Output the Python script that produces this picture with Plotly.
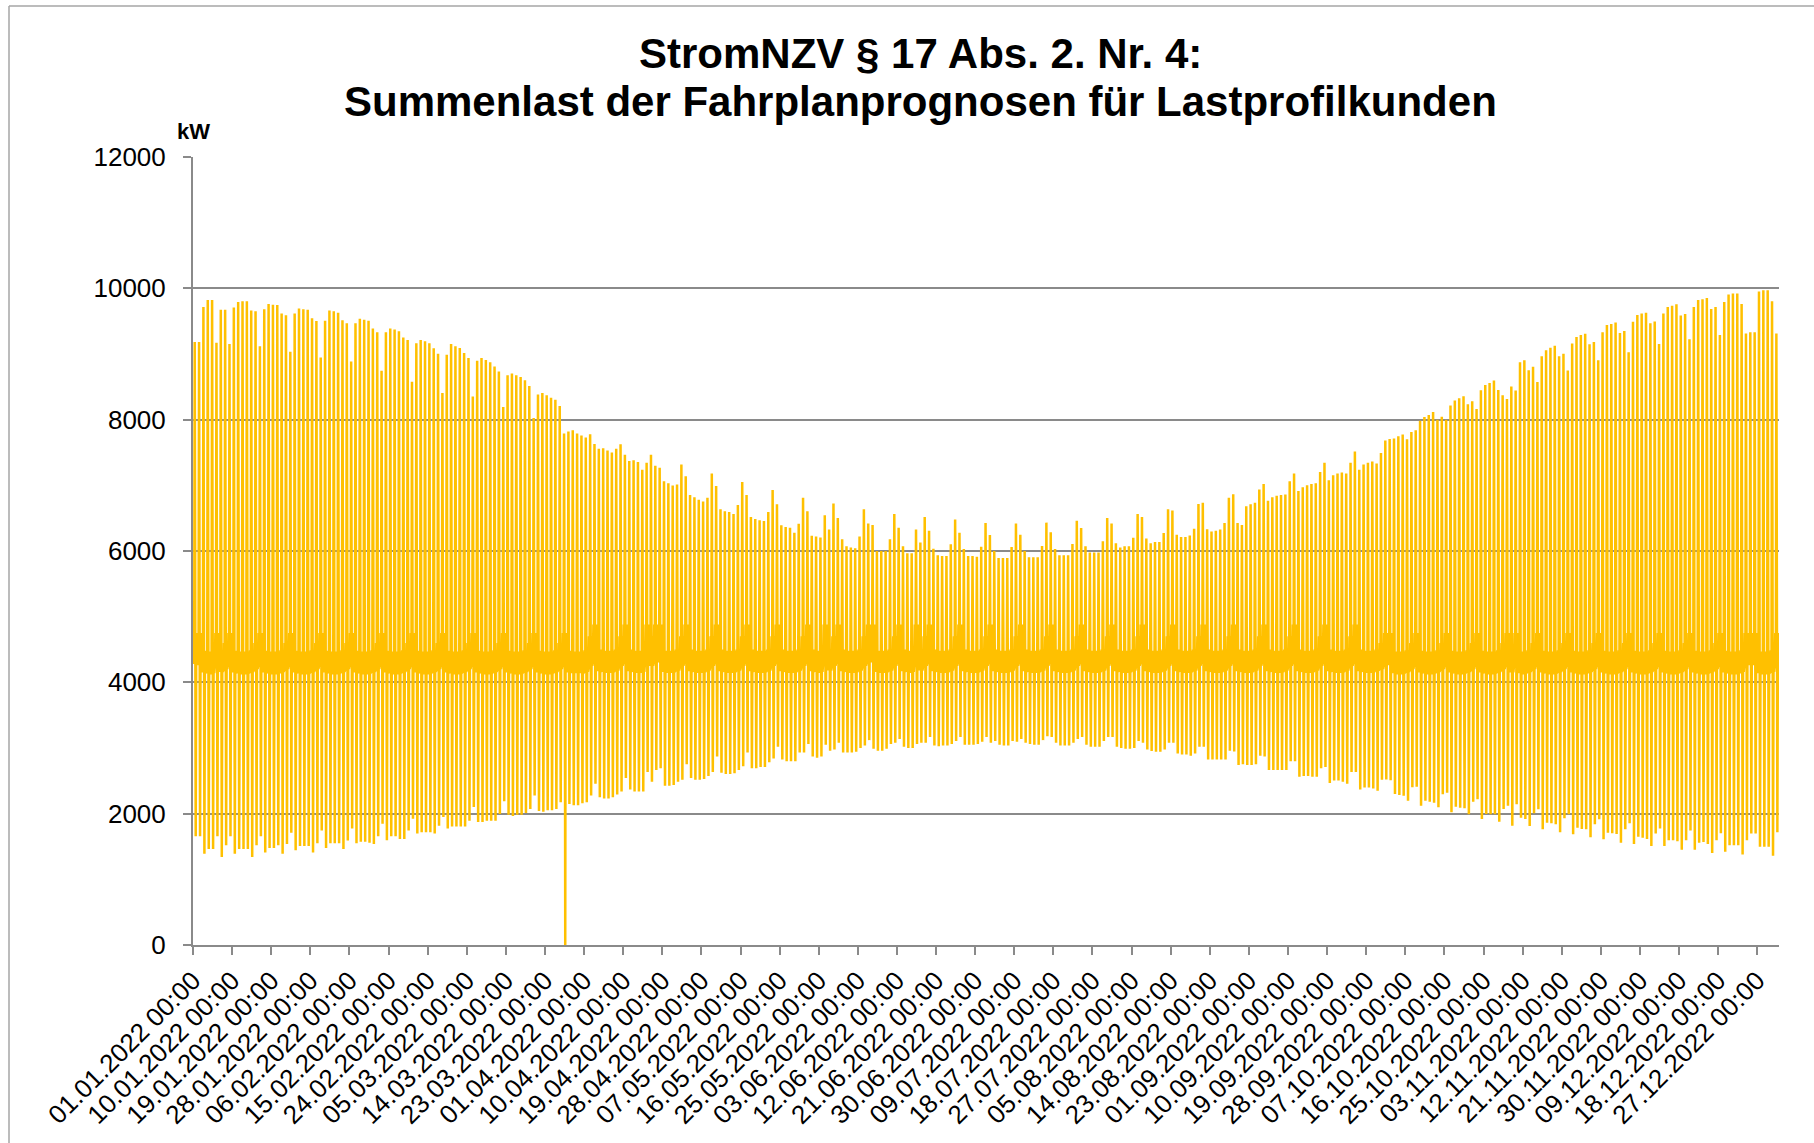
import plotly.graph_objects as go

# ---------------- data ----------------
# Daily maximum of the forecast load (kW), 01.01.2022 .. 31.12.2022 (rows = weeks starting Saturday)
peak_kw = [
    9182, 9182, 9716, 9822, 9822, 9170, 9674,
    9674, 9153, 9710, 9793, 9804, 9804, 9662,
    9650, 9117, 9680, 9763, 9751, 9745, 9615,
    9591, 9034, 9615, 9692, 9680, 9674, 9544,
    9502, 8945, 9508, 9662, 9650, 9627, 9514,
    9467, 8886, 9467, 9538, 9520, 9508, 9390,
    9330, 8744, 9330, 9390, 9372, 9348, 9253,
    9212, 8578, 9164, 9212, 9194, 9164, 9087,
    9004, 8406, 8987, 9153, 9117, 9093, 9016,
    8939, 8353, 8898, 8939, 8910, 8874, 8809,
    8732, 8193, 8678, 8702, 8678, 8649, 8601,
    8513, 8027, 8382, 8406, 8370, 8335, 8305,
    8210, 7790, 7819, 7837, 7790, 7760, 7730,
    7778, 7630, 7558, 7564, 7529, 7499, 7558,
    7624, 7464, 7369, 7381, 7357, 7239, 7345,
    7464, 7298, 7268, 7061, 7031, 6996, 7013,
    7316, 7138, 6853, 6818, 6782, 6753, 6812,
    7179, 6990, 6634, 6604, 6593, 6563, 6699,
    7049, 6853, 6516, 6486, 6468, 6456, 6593,
    6930, 6711, 6391, 6367, 6355, 6278, 6415,
    6812, 6604, 6231, 6219, 6207, 6545, 6326,
    6723, 6503, 6178, 6071, 6053, 6041, 6219,
    6634, 6420, 6397, 6000, 6000, 6000, 6178,
    6563, 6355, 6071, 5964, 5964, 6326, 6130,
    6516, 6308, 6035, 5935, 5923, 5923, 6101,
    6480, 6278, 6030, 5923, 5923, 5911, 6065,
    6427, 6243, 6000, 5893, 5893, 5893, 6059,
    6420, 6249, 6000, 5905, 5905, 5905, 6077,
    6432, 6284, 6030, 5935, 5935, 5935, 6107,
    6462, 6350, 6071, 5976, 5976, 5976, 6148,
    6503, 6420, 6118, 6053, 6071, 6071, 6202,
    6563, 6516, 6190, 6118, 6136, 6136, 6273,
    6634, 6616, 6249, 6213, 6213, 6237, 6338,
    6717, 6734, 6332, 6296, 6308, 6326, 6427,
    6812, 6865, 6427, 6397, 6682, 6711, 6734,
    6936, 7019, 6764, 6818, 6841, 6853, 6859,
    7061, 7179, 6912, 6972, 7001, 7019, 7031,
    7203, 7345, 7078, 7155, 7179, 7197, 7179,
    7345, 7517, 7238, 7316, 7345, 7363, 7333,
    7493, 7684, 7705, 7715, 7746, 7776, 7700,
    7812, 7837, 7985, 8041, 8071, 8117, 8000,
    8046, 8000, 8214, 8290, 8326, 8356, 8234,
    8280, 8163, 8448, 8529, 8560, 8595, 8453,
    8372, 8316, 8504, 8443, 8875, 8906, 8753,
    8804, 8575, 8967, 9059, 9094, 9125, 8967,
    9003, 8748, 9160, 9257, 9288, 9308, 9150,
    9181, 8906, 9333, 9440, 9455, 9481, 9318,
    9349, 9028, 9491, 9593, 9618, 9627, 9467,
    9496, 9153, 9615, 9716, 9733, 9757, 9585,
    9609, 9224, 9716, 9822, 9834, 9852, 9686,
    9716, 9289, 9793, 9905, 9923, 9923, 9763,
    9313, 9330, 9330, 9953, 9970, 9970, 9804,
    9313,
]

# Daily minimum (night trough) of the forecast load (kW)
trough_kw = [
    1656, 1656, 1390, 1461, 1461, 1656, 1342,
    1520, 1656, 1390, 1461, 1461, 1461, 1342,
    1520, 1656, 1407, 1478, 1478, 1520, 1390,
    1537, 1710, 1443, 1508, 1508, 1508, 1407,
    1550, 1745, 1478, 1550, 1550, 1550, 1461,
    1591, 1775, 1550, 1573, 1573, 1556, 1537,
    1656, 1846, 1597, 1656, 1656, 1615, 1615,
    1745, 1923, 1698, 1716, 1716, 1716, 1698,
    1816, 1950, 1775, 1804, 1804, 1804, 1804,
    1893, 2100, 1875, 1875, 1893, 1893, 1893,
    1994, 2190, 1982, 1964, 1982, 1982, 2012,
    2071, 2278, 2041, 2030, 2053, 2053, 2071,
    2172, 2300, 2148, 2130, 2130, 2160, 2172,
    2278, 2456, 2249, 2231, 2231, 2249, 2290,
    2338, 2545, 2367, 2338, 2338, 2338, 2634,
    2486, 2664, 2693, 2427, 2427, 2438, 2486,
    2515, 2753, 2545, 2515, 2515, 2527, 2575,
    2634, 2871, 2622, 2604, 2604, 2616, 2664,
    2723, 2930, 2693, 2693, 2711, 2711, 2782,
    2841, 3019, 2824, 2800, 2800, 2800, 2930,
    2930, 3061, 2871, 2853, 2871, 3049, 2960,
    2978, 3079, 2930, 2930, 2930, 2942, 3001,
    3037, 3120, 2989, 2960, 2960, 2989, 3061,
    3079, 3138, 3019, 3001, 3001, 3061, 3079,
    3079, 3168, 3037, 3025, 3037, 3037, 3061,
    3108, 3168, 3049, 3049, 3049, 3061, 3096,
    3168, 3079, 3108, 3049, 3037, 3037, 3108,
    3096, 3138, 3079, 3061, 3049, 3049, 3120,
    3180, 3168, 3079, 3037, 3037, 3037, 3079,
    3138, 3168, 3049, 3019, 3019, 3019, 3108,
    3168, 3168, 3019, 3001, 2989, 2989, 3001,
    3108, 3079, 2978, 2954, 2942, 2942, 2978,
    3079, 3079, 2918, 2901, 2901, 2883, 2918,
    3019, 3019, 2824, 2824, 2824, 2824, 2824,
    2960, 2948, 2741, 2753, 2741, 2741, 2753,
    2883, 2871, 2664, 2664, 2664, 2664, 2664,
    2800, 2800, 2563, 2575, 2575, 2563, 2563,
    2693, 2711, 2468, 2504, 2504, 2486, 2456,
    2634, 2634, 2367, 2397, 2397, 2385, 2350,
    2515, 2520, 2510, 2300, 2284, 2274, 2198,
    2401, 2411, 2122, 2198, 2183, 2168, 2097,
    2295, 2320, 2020, 2107, 2091, 2081, 1990,
    2183, 2218, 1919, 1995, 1990, 1990, 1878,
    2071, 2122, 1817, 2142, 1939, 1919, 1812,
    2005, 2066, 1761, 1863, 1853, 1837, 1716,
    1929, 1990, 1685, 1787, 1766, 1761, 1639,
    1837, 1914, 1609, 1710, 1700, 1690, 1558,
    1761, 1853, 1538, 1649, 1634, 1615, 1508,
    1698, 1775, 1508, 1597, 1597, 1579, 1449,
    1597, 1745, 1449, 1556, 1567, 1538, 1401,
    1597, 1700, 1419, 1520, 1520, 1520, 1378,
    1597, 1698, 1698, 1496, 1496, 1496, 1360,
    1716,
]

# Upper edge of the dense daytime band (kW)
band_hi_kw = [
    4750, 4750, 4480, 4470, 4470, 4750, 4490,
    4600, 4750, 4480, 4470, 4470, 4470, 4490,
    4600, 4750, 4480, 4470, 4470, 4470, 4490,
    4600, 4750, 4480, 4470, 4470, 4470, 4490,
    4600, 4750, 4480, 4470, 4470, 4470, 4490,
    4600, 4750, 4480, 4470, 4470, 4470, 4490,
    4600, 4750, 4480, 4470, 4470, 4470, 4490,
    4600, 4750, 4480, 4470, 4470, 4470, 4490,
    4600, 4750, 4480, 4470, 4470, 4470, 4490,
    4600, 4750, 4480, 4470, 4470, 4470, 4490,
    4600, 4750, 4480, 4470, 4470, 4470, 4490,
    4600, 4750, 4480, 4470, 4470, 4470, 4490,
    4600, 4750, 4480, 4470, 4470, 4470, 4490,
    4700, 4880, 4500, 4480, 4480, 4480, 4500,
    4700, 4880, 4500, 4480, 4480, 4480, 4880,
    4700, 4880, 4880, 4480, 4480, 4480, 4500,
    4700, 4880, 4500, 4480, 4480, 4480, 4500,
    4700, 4880, 4500, 4480, 4480, 4480, 4500,
    4700, 4880, 4500, 4480, 4480, 4480, 4500,
    4700, 4880, 4500, 4480, 4480, 4480, 4500,
    4700, 4880, 4500, 4480, 4480, 4880, 4500,
    4700, 4880, 4500, 4480, 4480, 4480, 4500,
    4700, 4880, 4880, 4480, 4480, 4480, 4500,
    4700, 4880, 4500, 4480, 4480, 4880, 4500,
    4700, 4880, 4500, 4480, 4480, 4480, 4500,
    4700, 4880, 4500, 4480, 4480, 4480, 4500,
    4700, 4880, 4500, 4480, 4480, 4480, 4500,
    4700, 4880, 4500, 4480, 4480, 4480, 4500,
    4700, 4880, 4500, 4480, 4480, 4480, 4500,
    4700, 4880, 4500, 4480, 4480, 4480, 4500,
    4700, 4880, 4500, 4480, 4480, 4480, 4500,
    4700, 4880, 4500, 4480, 4480, 4480, 4500,
    4700, 4880, 4500, 4480, 4480, 4480, 4500,
    4700, 4880, 4500, 4480, 4480, 4480, 4500,
    4700, 4880, 4500, 4480, 4480, 4480, 4500,
    4700, 4880, 4500, 4480, 4480, 4480, 4500,
    4700, 4880, 4500, 4480, 4480, 4480, 4500,
    4700, 4880, 4500, 4480, 4480, 4480, 4500,
    4700, 4880, 4500, 4480, 4480, 4480, 4500,
    4600, 4750, 4750, 4470, 4470, 4470, 4490,
    4600, 4750, 4480, 4470, 4470, 4470, 4490,
    4600, 4750, 4480, 4470, 4470, 4470, 4490,
    4600, 4750, 4480, 4470, 4470, 4470, 4490,
    4600, 4750, 4480, 4750, 4470, 4470, 4490,
    4600, 4750, 4480, 4470, 4470, 4470, 4490,
    4600, 4750, 4480, 4470, 4470, 4470, 4490,
    4600, 4750, 4480, 4470, 4470, 4470, 4490,
    4600, 4750, 4480, 4470, 4470, 4470, 4490,
    4600, 4750, 4480, 4470, 4470, 4470, 4490,
    4600, 4750, 4480, 4470, 4470, 4470, 4490,
    4600, 4750, 4480, 4470, 4470, 4470, 4490,
    4750, 4750, 4750, 4470, 4470, 4470, 4490,
    4750,
]

# Lower edge of the dense daytime band (kW)
band_lo_kw = [
    4280, 4280, 4150, 4140, 4140, 4280, 4160,
    4200, 4280, 4150, 4140, 4140, 4140, 4160,
    4200, 4280, 4150, 4140, 4140, 4140, 4160,
    4200, 4280, 4150, 4140, 4140, 4140, 4160,
    4200, 4280, 4150, 4140, 4140, 4140, 4160,
    4200, 4280, 4150, 4140, 4140, 4140, 4160,
    4200, 4280, 4150, 4140, 4140, 4140, 4160,
    4200, 4280, 4150, 4140, 4140, 4140, 4160,
    4200, 4280, 4150, 4140, 4140, 4140, 4160,
    4200, 4280, 4150, 4140, 4140, 4140, 4160,
    4200, 4280, 4150, 4140, 4140, 4140, 4160,
    4200, 4280, 4150, 4140, 4140, 4140, 4160,
    4200, 4280, 4150, 4140, 4140, 4140, 4160,
    4250, 4320, 4170, 4160, 4160, 4160, 4180,
    4250, 4320, 4170, 4160, 4160, 4160, 4320,
    4250, 4320, 4320, 4160, 4160, 4160, 4180,
    4250, 4320, 4170, 4160, 4160, 4160, 4180,
    4250, 4320, 4170, 4160, 4160, 4160, 4180,
    4250, 4320, 4170, 4160, 4160, 4160, 4180,
    4250, 4320, 4170, 4160, 4160, 4160, 4180,
    4250, 4320, 4170, 4160, 4160, 4320, 4180,
    4250, 4320, 4170, 4160, 4160, 4160, 4180,
    4250, 4320, 4320, 4160, 4160, 4160, 4180,
    4250, 4320, 4170, 4160, 4160, 4320, 4180,
    4250, 4320, 4170, 4160, 4160, 4160, 4180,
    4250, 4320, 4170, 4160, 4160, 4160, 4180,
    4250, 4320, 4170, 4160, 4160, 4160, 4180,
    4250, 4320, 4170, 4160, 4160, 4160, 4180,
    4250, 4320, 4170, 4160, 4160, 4160, 4180,
    4250, 4320, 4170, 4160, 4160, 4160, 4180,
    4250, 4320, 4170, 4160, 4160, 4160, 4180,
    4250, 4320, 4170, 4160, 4160, 4160, 4180,
    4250, 4320, 4170, 4160, 4160, 4160, 4180,
    4250, 4320, 4170, 4160, 4160, 4160, 4180,
    4250, 4320, 4170, 4160, 4160, 4160, 4180,
    4250, 4320, 4170, 4160, 4160, 4160, 4180,
    4250, 4320, 4170, 4160, 4160, 4160, 4180,
    4250, 4320, 4170, 4160, 4160, 4160, 4180,
    4250, 4320, 4170, 4160, 4160, 4160, 4180,
    4200, 4280, 4280, 4140, 4140, 4140, 4160,
    4200, 4280, 4150, 4140, 4140, 4140, 4160,
    4200, 4280, 4150, 4140, 4140, 4140, 4160,
    4200, 4280, 4150, 4140, 4140, 4140, 4160,
    4200, 4280, 4150, 4280, 4140, 4140, 4160,
    4200, 4280, 4150, 4140, 4140, 4140, 4160,
    4200, 4280, 4150, 4140, 4140, 4140, 4160,
    4200, 4280, 4150, 4140, 4140, 4140, 4160,
    4200, 4280, 4150, 4140, 4140, 4140, 4160,
    4200, 4280, 4150, 4140, 4140, 4140, 4160,
    4200, 4280, 4150, 4140, 4140, 4140, 4160,
    4200, 4280, 4150, 4140, 4140, 4140, 4160,
    4280, 4280, 4280, 4140, 4140, 4140, 4160,
    4280,
]

# Missing hour at the switch to summer time (27.03.2022 02:00) is reported as 0 kW
dst_gap_day = 85
dst_gap_kw = 0

tick_days = [0, 9, 18, 27, 36, 45, 54, 63, 72, 81, 90, 99, 108, 117, 126, 135, 144,
             153, 162, 171, 180, 189, 198, 207, 216, 225, 234, 243, 252, 261, 270,
             279, 288, 297, 306, 315, 324, 333, 342, 351, 360]
tick_labels = [
    "01.01.2022 00:00", "10.01.2022 00:00", "19.01.2022 00:00", "28.01.2022 00:00",
    "06.02.2022 00:00", "15.02.2022 00:00", "24.02.2022 00:00", "05.03.2022 00:00",
    "14.03.2022 00:00", "23.03.2022 00:00", "01.04.2022 00:00", "10.04.2022 00:00",
    "19.04.2022 00:00", "28.04.2022 00:00", "07.05.2022 00:00", "16.05.2022 00:00",
    "25.05.2022 00:00", "03.06.2022 00:00", "12.06.2022 00:00", "21.06.2022 00:00",
    "30.06.2022 00:00", "09.07.2022 00:00", "18.07.2022 00:00", "27.07.2022 00:00",
    "05.08.2022 00:00", "14.08.2022 00:00", "23.08.2022 00:00", "01.09.2022 00:00",
    "10.09.2022 00:00", "19.09.2022 00:00", "28.09.2022 00:00", "07.10.2022 00:00",
    "16.10.2022 00:00", "25.10.2022 00:00", "03.11.2022 00:00", "12.11.2022 00:00",
    "21.11.2022 00:00", "30.11.2022 00:00", "09.12.2022 00:00", "18.12.2022 00:00",
    "27.12.2022 00:00",
]

title_lines = ["StromNZV § 17 Abs. 2. Nr. 4:",
               "Summenlast der Fahrplanprognosen für Lastprofilkunden"]
y_unit = "kW"

assert len(peak_kw) == len(trough_kw) == len(band_hi_kw) == len(band_lo_kw) == 365

# ---------------- build the daily course ----------------
# hour of day at which each characteristic value is placed
xs, ys = [], []
for d in range(len(peak_kw)):
    course = [
        (1.0, band_lo_kw[d]),
        (3.5, band_hi_kw[d]),
        (6.5, band_lo_kw[d]),
        (9.5, peak_kw[d]),
        (15.0, trough_kw[d]),
    ]
    if d == dst_gap_day:
        course.append((16.0, dst_gap_kw))
    course += [
        (18.0, band_hi_kw[d]),
        (21.0, band_lo_kw[d]),
    ]
    for h, v in course:
        xs.append(d + h / 24.0)
        ys.append(v)

fig = go.Figure()
fig.add_trace(go.Scatter(
    x=xs, y=ys, mode="lines",
    line=dict(color="#FFC000", width=2.5),
    hoverinfo="skip", showlegend=False,
))

FONT = "Liberation Sans, Arial, sans-serif"
GRID = "#8a8a8a"

# plot area in pixels: left 193, right 1779, top 157, bottom 944.7
def paper_x(px):
    return (px - 193) / 1586.0

def paper_y(py):
    return (944.7 - py) / 787.7

fig.update_layout(
    width=1814, height=1143,
    paper_bgcolor="white", plot_bgcolor="white",
    margin=dict(l=193, r=35, t=157, b=198),
    font=dict(family=FONT, color="black"),
    showlegend=False,
    xaxis=dict(
        range=[0, 365], tickmode="array", tickvals=tick_days, ticktext=tick_labels,
        tickangle=-45, tickfont=dict(family=FONT, size=26, color="black"),
        showgrid=False, zeroline=False,
        showline=True, linecolor=GRID, linewidth=2,
        ticks="outside", ticklen=8, tickwidth=2, tickcolor=GRID,
    ),
    yaxis=dict(
        range=[0, 12000], tickmode="linear", tick0=0, dtick=2000, tickformat="d",
        tickfont=dict(family=FONT, size=26, color="black"),
        showgrid=True, gridcolor=GRID, gridwidth=2,
        zeroline=False,
        showline=True, linecolor=GRID, linewidth=2,
        ticks="outside", ticklen=8, tickwidth=2, tickcolor=GRID,
        ticklabelstandoff=12,
    ),
    annotations=[
        dict(text="<b>" + title_lines[0] + "</b>", x=paper_x(920), xref="paper", xanchor="center",
             y=paper_y(54), yref="paper", yanchor="middle", showarrow=False,
             font=dict(family=FONT, size=42, color="black")),
        dict(text="<b>" + title_lines[1] + "</b>", x=paper_x(920), xref="paper", xanchor="center",
             y=paper_y(102), yref="paper", yanchor="middle", showarrow=False,
             font=dict(family=FONT, size=42, color="black")),
        dict(text="<b>" + y_unit + "</b>", x=0, xref="paper", xanchor="center",
             y=1, yref="paper", yanchor="middle", yshift=26,
             showarrow=False, font=dict(family=FONT, size=22, color="black")),
    ],
    shapes=[
        dict(type="line", xref="paper", yref="paper",
             x0=paper_x(9), x1=paper_x(1814), y0=paper_y(6), y1=paper_y(6),
             line=dict(color="#a6a6a6", width=1.5)),
        dict(type="line", xref="paper", yref="paper",
             x0=paper_x(9), x1=paper_x(9), y0=paper_y(6), y1=paper_y(1143),
             line=dict(color="#a6a6a6", width=1.5)),
    ],
)

fig.write_html(
    "out.html",
    config={"displayModeBar": False},
    post_script="document.body.style.margin='0';document.body.style.overflow='hidden';",
)
